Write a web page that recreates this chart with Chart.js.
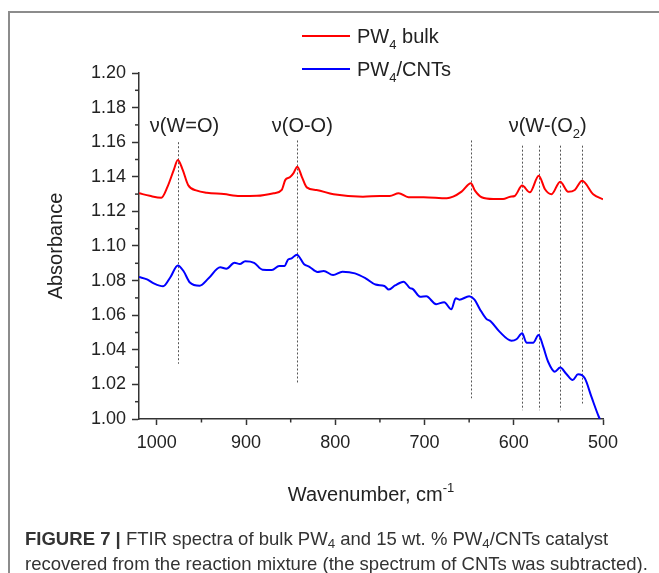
<!DOCTYPE html>
<html><head><meta charset="utf-8">
<script src="https://cdn.jsdelivr.net/npm/chart.js@4.4.1/dist/chart.umd.min.js"></script>
<style>
html,body{margin:0;padding:0;background:#fff;overflow:hidden;}
#wrap{position:relative;width:659px;height:573px;overflow:hidden;background:#fff;}
#frame{position:absolute;left:8px;top:11px;width:700px;height:600px;border-left:2px solid #8c8c8c;border-top:2px solid #8c8c8c;}
canvas{position:absolute;left:0;top:0;}
.cap{position:absolute;left:25px;font-family:"Liberation Sans Narrow","Liberation Sans",Arial,sans-serif;font-size:19px;color:#333;white-space:nowrap;transform-origin:0 0;}
.cap sub{font-size:0.72em;line-height:0;vertical-align:-0.2em;}
</style></head><body>
<div id="wrap">
<div id="frame"></div>
<canvas id="c" width="659" height="573"></canvas>
<div class="cap" id="cap1" style="top:528px"><b>FIGURE 7 |</b> FTIR spectra of bulk PW<sub>4</sub> and 15 wt. % PW<sub>4</sub>/CNTs catalyst</div>
<div class="cap" id="cap2" style="top:553px">recovered from the reaction mixture (the spectrum of CNTs was subtracted).</div>
</div>
<script>
// ---- data ----
const wnBulk = [1020,1008,995,988,981,976.5,971,965,955,944,925,907,888,869,860,856,851,847,842.5,837.5,832,821,802,769,750,739,729,718,701,675,668,658.5,648,643.5,636,623,612,604,599,590.6,582,572,565,557.7,548,539,531.6,523.4,511,500];
const absBulk = [1.1305,1.1290,1.1279,1.1343,1.1440,1.1497,1.1440,1.1353,1.1320,1.1308,1.1300,1.1289,1.1290,1.1305,1.1325,1.1382,1.1397,1.1420,1.1458,1.1400,1.1339,1.1324,1.1299,1.1285,1.1289,1.1289,1.1305,1.1282,1.1282,1.1276,1.1285,1.1314,1.1362,1.1320,1.1282,1.1272,1.1272,1.1285,1.1289,1.1349,1.1310,1.1406,1.1328,1.1299,1.1372,1.1314,1.1324,1.1377,1.1299,1.1270];
const wnCnt = [1020,1011,1003.5,993,985,976.5,970,963,952,942,929,922,913,907,901,891,881.5,871,863,857,853,849,843,835,829,820,813,802.5,792,778,766,755,745,740,733,723.5,716.5,713,705,698,687,678,670,665,661,650,644,638,631,626,616,602.5,597,590.6,585.7,578.3,572.2,567,561.5,554,548,541,534,528,520.4,513,504.7,503.5];
const absCnt = [1.0821,1.0807,1.0784,1.0767,1.0818,1.0888,1.0854,1.0789,1.0770,1.0813,1.0877,1.0869,1.0903,1.0896,1.0912,1.0903,1.0863,1.0861,1.0884,1.0884,1.0921,1.0929,1.0950,1.0895,1.0880,1.0850,1.0856,1.0832,1.0851,1.0842,1.0813,1.0777,1.0769,1.0748,1.0772,1.0794,1.0757,1.0751,1.0707,1.0709,1.0664,1.0675,1.0634,1.0698,1.0690,1.0709,1.0690,1.0635,1.0580,1.0565,1.0505,1.0453,1.0461,1.0495,1.0441,1.0441,1.0486,1.0418,1.0331,1.0273,1.0297,1.0260,1.0225,1.0258,1.0235,1.0129,1.0013,1.0000];
const seriesNames = ['PW_4_ bulk', 'PW_4_/CNTs'];
const seriesColors = ['#ff0000', '#0000ff'];
const xMajorTicks = [1000, 900, 800, 700, 600, 500];
const xMinorTicks = [950, 850, 750, 650, 550];
const yMajorTicks = [1.00, 1.02, 1.04, 1.06, 1.08, 1.10, 1.12, 1.14, 1.16, 1.18, 1.20];
const yMinorTicks = [1.01, 1.03, 1.05, 1.07, 1.09, 1.11, 1.13, 1.15, 1.17, 1.19];
const bandLines = [976.5, 842.5, 648, 590.6, 572.2, 548, 523.4];
const bandTop = [1.160, 1.161, 1.161, 1.158, 1.158, 1.158, 1.158];
const bandBottom = [1.032, 1.021, 1.012, 1.005, 1.005, 1.005, 1.009];
const bandLabels = ['ν(W=O)', 'ν(O-O)', 'ν(W-(O_2_)'];
const bandLabelX = [969, 837, 562];
const bandLabelY = [1.170, 1.170, 1.170];
const xTitle = 'Wavenumber, cm^-1^';
const yTitle = 'Absorbance';

const FONT = '"Liberation Sans", Arial, sans-serif';

function richParts(t){
  // _x_ = subscript, ^x^ = superscript
  const parts = []; let mode = 'n'; let buf = '';
  for (const ch of t){
    if (ch === '_' ){ parts.push([mode,buf]); buf=''; mode = mode==='sub'?'n':'sub'; continue; }
    if (ch === '^' ){ parts.push([mode,buf]); buf=''; mode = mode==='sup'?'n':'sup'; continue; }
    buf += ch;
  }
  parts.push([mode,buf]);
  return parts.filter(p=>p[1].length);
}
function drawRich(ctx, t, x, y, size, align){
  const parts = richParts(t);
  const small = Math.round(size*0.65);
  let w = 0;
  for (const [m,s] of parts){ ctx.font = (m==='n'?size:small)+'px '+FONT; w += ctx.measureText(s).width; }
  let cx = align==='center' ? x - w/2 : x;
  ctx.textBaseline = 'alphabetic'; ctx.textAlign = 'left';
  const base = y + size*0.36;
  for (const [m,s] of parts){
    ctx.font = (m==='n'?size:small)+'px '+FONT;
    let yy = base; if (m==='sub') yy = base + size*0.28; if (m==='sup') yy = base - size*0.45;
    ctx.fillText(s, cx, yy);
    cx += ctx.measureText(s).width;
  }
}

const overlay = {
  id: 'overlay',
  beforeDatasetsDraw(chart){
    const ctx = chart.ctx, xs = chart.scales.x, ys = chart.scales.y;
    ctx.save();
    ctx.strokeStyle = '#555'; ctx.lineWidth = 1; ctx.setLineDash([2,2]);
    bandLines.forEach((w,i)=>{
      const px = Math.round(xs.getPixelForValue(w))+0.5;
      ctx.beginPath(); ctx.moveTo(px, ys.getPixelForValue(bandTop[i])); ctx.lineTo(px, ys.getPixelForValue(bandBottom[i])); ctx.stroke();
    });
    ctx.restore();
  },
  afterDraw(chart){
    const ctx = chart.ctx, xs = chart.scales.x, ys = chart.scales.y, a = chart.chartArea;
    ctx.save();
    // minor ticks
    ctx.strokeStyle = '#333'; ctx.lineWidth = 1.5;
    xMinorTicks.forEach(v=>{ const px = xs.getPixelForValue(v); ctx.beginPath(); ctx.moveTo(px, a.bottom); ctx.lineTo(px, a.bottom+3.5); ctx.stroke(); });
    yMinorTicks.forEach(v=>{ const py = ys.getPixelForValue(v); ctx.beginPath(); ctx.moveTo(a.left, py); ctx.lineTo(a.left-4, py); ctx.stroke(); });
    ctx.fillStyle = '#222';
    // band labels
    bandLabels.forEach((t,i)=>drawRich(ctx, t, xs.getPixelForValue(bandLabelX[i]), ys.getPixelForValue(bandLabelY[i]), 20, 'center'));
    // legend
    seriesNames.forEach((n,i)=>{
      const y = 36 + i*33;
      ctx.strokeStyle = seriesColors[i]; ctx.lineWidth = 2; ctx.setLineDash([]);
      ctx.beginPath(); ctx.moveTo(302, y); ctx.lineTo(350, y); ctx.stroke();
      ctx.fillStyle = '#222';
      drawRich(ctx, n, 357, y, 20, 'left');
    });
    // axis titles
    drawRich(ctx, xTitle, (a.left+a.right)/2, 494, 20, 'center');
    ctx.translate(55, (a.top+a.bottom)/2); ctx.rotate(-Math.PI/2);
    drawRich(ctx, yTitle, 0, 0, 20, 'center');
    ctx.restore();
  }
};

const ctx = document.getElementById('c').getContext('2d');
new Chart(ctx, {
  type: 'line',
  data: {
    datasets: [
      { label: seriesNames[0], data: wnBulk.map((w,i)=>({x:w, y:absBulk[i]})), borderColor: seriesColors[0], borderWidth: 2, pointRadius: 0, cubicInterpolationMode: 'monotone', fill: false },
      { label: seriesNames[1], data: wnCnt.map((w,i)=>({x:w, y:absCnt[i]})), borderColor: seriesColors[1], borderWidth: 2, pointRadius: 0, cubicInterpolationMode: 'monotone', fill: false }
    ]
  },
  options: {
    responsive: false, animation: false,
    layout: { padding: { left: 0, right: 56, top: 73, bottom: 0 } },
    plugins: { legend: { display: false }, tooltip: { enabled: false } },
    scales: {
      x: {
        type: 'linear', reverse: true, min: 500, max: 1020,
        afterBuildTicks: s => { s.ticks = xMajorTicks.map(v=>({value:v})); },
        afterFit: s => { s.height = 154; },
        grid: { drawOnChartArea: false, drawTicks: true, tickLength: 6, tickWidth: 1.5, tickColor: '#333' },
        border: { display: true, color: '#333', width: 1.5 },
        ticks: { autoSkip: false, maxRotation: 0, padding: 7, color: '#222', font: { family: FONT, size: 18 }, callback: v => String(v) }
      },
      y: {
        min: 1.00, max: 1.20,
        afterBuildTicks: s => { s.ticks = yMajorTicks.map(v=>({value:v})); },
        afterFit: s => { s.width = 139; },
        grid: { drawOnChartArea: false, drawTicks: true, tickLength: 7, tickWidth: 1.5, tickColor: '#333' },
        border: { display: true, color: '#333', width: 1.5 },
        ticks: { autoSkip: false, padding: 6, color: '#222', font: { family: FONT, size: 18 }, callback: v => Number(v).toFixed(2) }
      }
    }
  },
  plugins: [overlay]
});

// fit caption lines to the figure width
(function(){
  const c1 = document.getElementById('cap1'), c2 = document.getElementById('cap2');
  const s2 = 623 / c2.scrollWidth;
  c1.style.transform = 'scaleX(' + s2 + ')';
  c2.style.transform = 'scaleX(' + s2 + ')';
})();
</script>
</body></html>
